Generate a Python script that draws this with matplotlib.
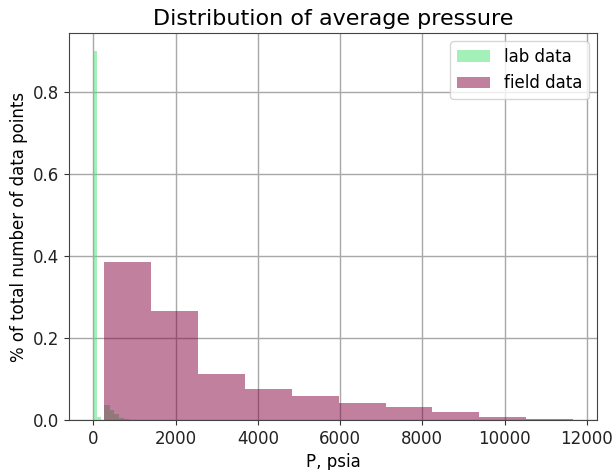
import matplotlib.pyplot as plt
import numpy as np

# fraction of data points per pressure bin
lab_edges = [0, 90, 180, 270, 400, 510, 630, 750, 870]
lab_frac = [0.9, 0.007, 0.0, 0.038, 0.026, 0.014, 0.006, 0.004]

field_edges = [266, 1406, 2546, 3686, 4826, 5966, 7106, 8246, 9386, 10526, 11666]
field_frac = [0.385, 0.267, 0.113, 0.075, 0.060, 0.042, 0.031, 0.020, 0.008, 0.004]

lab_mid = [(a + b) / 2 for a, b in zip(lab_edges[:-1], lab_edges[1:])]
field_mid = [(a + b) / 2 for a, b in zip(field_edges[:-1], field_edges[1:])]

fig = plt.figure(figsize=(6.13, 4.70), dpi=100)
ax = fig.add_axes([0.113, 0.106, 0.861, 0.824])
ax.grid(True, color='#a8a8a8', linewidth=1)
ax.set_axisbelow(True)

ax.hist(lab_mid, bins=lab_edges, weights=lab_frac, color='#4ae274', alpha=0.5,
        label='lab data')
ax.hist(field_mid, bins=field_edges, weights=field_frac, color='#82023f', alpha=0.5,
        label='field data')

for s in ax.spines.values():
    s.set_color('#444444')

ax.tick_params(labelsize=12, colors='#333333', labelcolor='#222222')
ax.set_xticks([0, 2000, 4000, 6000, 8000, 10000, 12000])
ax.set_title('Distribution of average pressure', fontsize=16)
ax.set_xlabel('P, psia', fontsize=12)
ax.set_ylabel('% of total number of data points', fontsize=12)
ax.legend(loc='upper right', fontsize=12)

fig.savefig('out.png', dpi=100)
